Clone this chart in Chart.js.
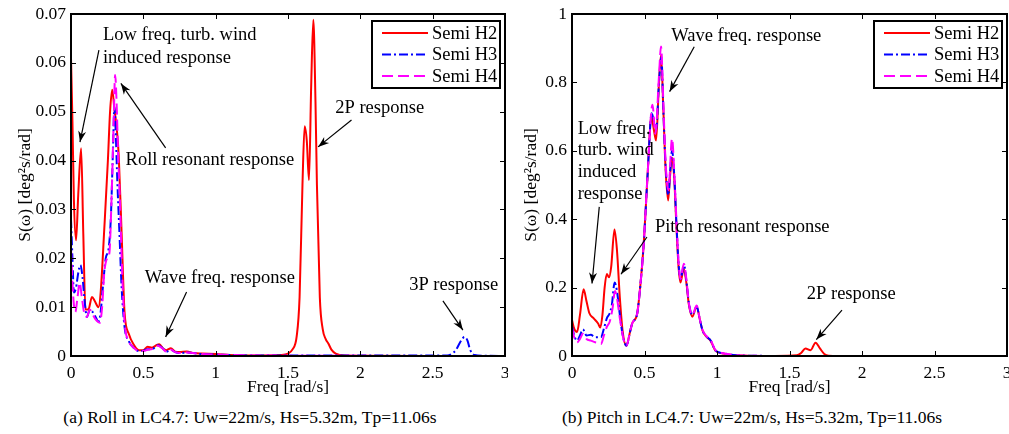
<!DOCTYPE html>
<html>
<head>
<meta charset="utf-8">
<script src="https://cdn.jsdelivr.net/npm/chart.js@4.4.1/dist/chart.umd.min.js"></script>
<style>
  body { margin: 0; background: #fff; width: 1009px; height: 434px; overflow: hidden; position: relative; }
  .panel { position: absolute; top: 0; }
  .caption { position: absolute; top: 407px; font-family: "Liberation Serif", "Times New Roman", serif; font-size: 17.5px; color: #000; white-space: nowrap; transform: translateX(-50%); }
</style>
</head>
<body>
<div class="panel" style="left:0"><canvas id="rollChart" width="508" height="400"></canvas></div>
<div class="panel" style="left:508px"><canvas id="pitchChart" width="501" height="400"></canvas></div>
<div class="caption" style="left:250px">(a) Roll in LC4.7: Uw=22m/s, Hs=5.32m, Tp=11.06s</div>
<div class="caption" style="left:752px">(b) Pitch in LC4.7: Uw=22m/s, Hs=5.32m, Tp=11.06s</div>
<script>
// tick labels
const freqLabels = ['0', '0.5', '1', '1.5', '2', '2.5', '3'];
const rollYLabels = ['0', '0.01', '0.02', '0.03', '0.04', '0.05', '0.06', '0.07'];
const pitchYLabels = ['0', '0.2', '0.4', '0.6', '0.8', '1'];
const seriesNames = ['Semi H2', 'Semi H3', 'Semi H4'];

// roll spectra (a)
const rollH2Freq = [0, 0.01, 0.02, 0.035, 0.05, 0.07, 0.085, 0.1, 0.12, 0.145, 0.165, 0.19, 0.205, 0.23, 0.255, 0.27, 0.285, 0.3, 0.315, 0.33, 0.35, 0.37, 0.4, 0.43, 0.47, 0.5, 0.53, 0.56, 0.59, 0.61, 0.64, 0.66, 0.69, 0.72, 0.75, 0.8, 0.85, 0.9, 1.0, 1.1, 1.2, 1.3, 1.45, 1.5, 1.53, 1.56, 1.58, 1.6, 1.615, 1.63, 1.645, 1.66, 1.675, 1.69, 1.7, 1.72, 1.74, 1.76, 1.78, 1.8, 1.83, 1.9, 2.0, 2.5, 3.0];
const rollH2 = [0.061, 0.048, 0.032, 0.0237, 0.033, 0.0425, 0.025, 0.0095, 0.0095, 0.0121, 0.0112, 0.010, 0.013, 0.026, 0.040, 0.050, 0.0545, 0.0505, 0.047, 0.041, 0.025, 0.009, 0.0045, 0.0025, 0.0012, 0.0012, 0.0019, 0.0017, 0.0022, 0.0024, 0.0014, 0.0012, 0.0016, 0.0009, 0.0008, 0.0009, 0.0006, 0.0005, 0.0004, 0.0002, 0.0001, 0.0001, 0.0002, 0.0005, 0.0013, 0.004, 0.012, 0.035, 0.047, 0.044, 0.036, 0.055, 0.0688, 0.052, 0.035, 0.012, 0.0055, 0.0035, 0.0025, 0.0013, 0.0005, 0.0001, 0.00005, 0, 0];

const rollH3Freq = [0, 0.01, 0.02, 0.035, 0.05, 0.065, 0.08, 0.095, 0.11, 0.13, 0.15, 0.17, 0.19, 0.205, 0.22, 0.24, 0.26, 0.275, 0.29, 0.3, 0.31, 0.32, 0.335, 0.35, 0.37, 0.4, 0.43, 0.47, 0.5, 0.53, 0.56, 0.6, 0.63, 0.66, 0.69, 0.72, 0.76, 0.8, 0.9, 1.0, 1.1, 1.3, 2.6, 2.63, 2.66, 2.69, 2.72, 2.74, 2.76, 2.79, 2.85, 3.0];
const rollH3 = [0.028, 0.02, 0.013, 0.014, 0.017, 0.0186, 0.016, 0.011, 0.008, 0.0095, 0.009, 0.008, 0.007, 0.009, 0.014, 0.02, 0.022, 0.028, 0.042, 0.051, 0.045, 0.036, 0.025, 0.014, 0.006, 0.003, 0.0018, 0.001, 0.0011, 0.0014, 0.0014, 0.0022, 0.0017, 0.0009, 0.0013, 0.0008, 0.0006, 0.0007, 0.0004, 0.0003, 0.0002, 0.0001, 0.0001, 0.0004, 0.0012, 0.0028, 0.0039, 0.0032, 0.0012, 0.0002, 0.00005, 0];

const rollH4Freq = [0, 0.01, 0.02, 0.03, 0.045, 0.06, 0.075, 0.09, 0.11, 0.13, 0.15, 0.17, 0.2, 0.215, 0.23, 0.25, 0.265, 0.28, 0.295, 0.305, 0.315, 0.325, 0.34, 0.355, 0.37, 0.4, 0.43, 0.47, 0.5, 0.53, 0.56, 0.6, 0.63, 0.66, 0.69, 0.72, 0.76, 0.8, 0.9, 1.0, 1.1, 1.3, 3.0];
const rollH4 = [0.022, 0.015, 0.0105, 0.009, 0.012, 0.015, 0.012, 0.009, 0.008, 0.0095, 0.0085, 0.0075, 0.0068, 0.01, 0.017, 0.02, 0.021, 0.032, 0.048, 0.0575, 0.052, 0.042, 0.03, 0.016, 0.007, 0.003, 0.0018, 0.001, 0.001, 0.0013, 0.0014, 0.0021, 0.0016, 0.0009, 0.0013, 0.0008, 0.0006, 0.0007, 0.0004, 0.0003, 0.0002, 0.0001, 0];

// pitch spectra (b)
const pitchH2Freq = [0, 0.015, 0.035, 0.055, 0.08, 0.1, 0.12, 0.15, 0.18, 0.195, 0.21, 0.225, 0.24, 0.255, 0.27, 0.293, 0.31, 0.33, 0.35, 0.375, 0.4, 0.415, 0.45, 0.47, 0.495, 0.52, 0.548, 0.565, 0.58, 0.6, 0.614, 0.63, 0.645, 0.663, 0.675, 0.69, 0.705, 0.72, 0.735, 0.748, 0.771, 0.79, 0.806, 0.83, 0.86, 0.88, 0.9, 0.93, 0.955, 0.99, 1.035, 1.1, 1.2, 1.4, 1.55, 1.58, 1.61, 1.645, 1.68, 1.71, 1.74, 1.77, 1.85, 2.0, 3.0];
const pitchH2 = [0.105, 0.08, 0.07, 0.12, 0.195, 0.16, 0.125, 0.11, 0.095, 0.083, 0.12, 0.2, 0.24, 0.23, 0.26, 0.37, 0.31, 0.17, 0.07, 0.03, 0.07, 0.095, 0.125, 0.2, 0.33, 0.52, 0.70, 0.66, 0.63, 0.80, 0.88, 0.72, 0.55, 0.455, 0.52, 0.58, 0.52, 0.38, 0.26, 0.215, 0.255, 0.21, 0.15, 0.115, 0.145, 0.11, 0.075, 0.055, 0.045, 0.015, 0.008, 0.003, 0.001, 0.0003, 0.002, 0.009, 0.022, 0.017, 0.039, 0.022, 0.006, 0.001, 0.0002, 0, 0];

const pitchH3Freq = [0, 0.015, 0.035, 0.055, 0.075, 0.1, 0.13, 0.16, 0.2, 0.22, 0.24, 0.26, 0.275, 0.294, 0.31, 0.33, 0.35, 0.375, 0.4, 0.415, 0.45, 0.47, 0.495, 0.52, 0.55, 0.568, 0.58, 0.6, 0.616, 0.63, 0.645, 0.665, 0.677, 0.69, 0.705, 0.72, 0.735, 0.748, 0.773, 0.79, 0.806, 0.83, 0.86, 0.88, 0.9, 0.93, 0.955, 0.99, 1.035, 1.1, 1.2, 1.4, 3.0];
const pitchH3 = [0.088, 0.06, 0.045, 0.06, 0.078, 0.06, 0.062, 0.055, 0.055, 0.08, 0.11, 0.125, 0.15, 0.215, 0.19, 0.12, 0.06, 0.03, 0.07, 0.095, 0.125, 0.2, 0.33, 0.52, 0.71, 0.68, 0.66, 0.80, 0.875, 0.72, 0.56, 0.47, 0.54, 0.60, 0.53, 0.39, 0.27, 0.225, 0.265, 0.215, 0.155, 0.12, 0.145, 0.11, 0.075, 0.056, 0.046, 0.016, 0.009, 0.004, 0.001, 0.0003, 0];

const pitchH4Freq = [0, 0.015, 0.035, 0.055, 0.075, 0.1, 0.13, 0.16, 0.2, 0.22, 0.24, 0.26, 0.28, 0.296, 0.31, 0.33, 0.355, 0.375, 0.4, 0.415, 0.45, 0.47, 0.495, 0.52, 0.555, 0.575, 0.6, 0.614, 0.63, 0.645, 0.665, 0.69, 0.705, 0.72, 0.735, 0.748, 0.771, 0.79, 0.806, 0.83, 0.86, 0.88, 0.9, 0.93, 0.955, 0.99, 1.035, 1.1, 1.2, 1.4, 3.0];
const pitchH4 = [0.083, 0.055, 0.04, 0.05, 0.065, 0.05, 0.045, 0.04, 0.035, 0.06, 0.085, 0.1, 0.14, 0.19, 0.17, 0.11, 0.05, 0.03, 0.07, 0.095, 0.125, 0.2, 0.33, 0.52, 0.735, 0.65, 0.82, 0.905, 0.74, 0.57, 0.485, 0.636, 0.54, 0.40, 0.275, 0.225, 0.27, 0.22, 0.155, 0.12, 0.148, 0.11, 0.076, 0.057, 0.047, 0.017, 0.009, 0.004, 0.001, 0.0003, 0];

const FONT = '"Liberation Serif", "Times New Roman", serif';

// turn a freq array and a value array into {x, y} points
function pts(freq, vals) {
    return freq.map((f, i) => ({ x: f, y: vals[i] }));
}

function makeDatasets(h2f, h2, h3f, h3, h4f, h4) {
    const common = { pointRadius: 0, borderWidth: 2, fill: false, cubicInterpolationMode: 'monotone' };
    return [
        Object.assign({ label: seriesNames[0], data: pts(h2f, h2), borderColor: '#ff0000', order: 3 }, common),
        Object.assign({ label: seriesNames[1], data: pts(h3f, h3), borderColor: '#0000ff', borderDash: [9, 3, 2, 3], order: 2 }, common),
        Object.assign({ label: seriesNames[2], data: pts(h4f, h4), borderColor: '#ff00ff', borderDash: [11, 5], order: 1 }, common)
    ];
}

function drawArrow(ctx, x1, y1, x2, y2) {
    ctx.beginPath();
    ctx.moveTo(x1, y1);
    ctx.lineTo(x2, y2);
    ctx.stroke();
    const ang = Math.atan2(y2 - y1, x2 - x1);
    const len = 11, half = 4;
    const bx = x2 - len * Math.cos(ang), by = y2 - len * Math.sin(ang);
    const nx = -Math.sin(ang), ny = Math.cos(ang);
    ctx.beginPath();
    ctx.moveTo(x2, y2);
    ctx.lineTo(bx + nx * half, by + ny * half);
    ctx.lineTo(x2 - 0.7 * len * Math.cos(ang), y2 - 0.7 * len * Math.sin(ang));
    ctx.lineTo(bx - nx * half, by - ny * half);
    ctx.closePath();
    ctx.fill();
}

// frame, inward ticks, legend, axis titles and annotations
const decorPlugin = {
    id: 'decor',
    afterDatasetsDraw(chart, args, opts) {
        const ctx = chart.ctx;
        const a = chart.chartArea;
        const xs = chart.scales.x, ys = chart.scales.y;
        ctx.save();
        ctx.strokeStyle = '#000';
        ctx.fillStyle = '#000';

        // ticks on all four sides, pointing in
        ctx.lineWidth = 1;
        ctx.beginPath();
        xs.ticks.forEach(t => {
            const px = Math.round(xs.getPixelForValue(t.value)) + 0.5;
            ctx.moveTo(px, a.bottom); ctx.lineTo(px, a.bottom - 5);
            ctx.moveTo(px, a.top); ctx.lineTo(px, a.top + 5);
        });
        ys.ticks.forEach(t => {
            const py = Math.round(ys.getPixelForValue(t.value)) + 0.5;
            ctx.moveTo(a.left, py); ctx.lineTo(a.left + 5, py);
            ctx.moveTo(a.right, py); ctx.lineTo(a.right - 5, py);
        });
        ctx.stroke();

        // box
        ctx.lineWidth = 2;
        ctx.strokeRect(a.left, a.top, a.right - a.left, a.bottom - a.top);

        // legend
        const bw = 128, bh = 67;
        const bx = a.right - 5 - bw, by = a.top + 7;
        ctx.fillStyle = '#fff';
        ctx.fillRect(bx, by, bw, bh);
        ctx.lineWidth = 2;
        ctx.strokeRect(bx, by, bw, bh);
        ctx.font = '18.5px ' + FONT;
        ctx.textBaseline = 'middle';
        ctx.textAlign = 'left';
        chart.data.datasets.forEach((ds, i) => {
            const ry = by + 12 + i * 21.5;
            ctx.strokeStyle = ds.borderColor;
            ctx.lineWidth = 2;
            ctx.setLineDash(ds.borderDash || []);
            ctx.beginPath();
            ctx.moveTo(bx + 10, ry); ctx.lineTo(bx + 56, ry);
            ctx.stroke();
            ctx.setLineDash([]);
            ctx.fillStyle = '#000';
            ctx.fillText(ds.label, bx + 60, ry + 1);
        });

        // axis titles
        ctx.font = '17.5px ' + FONT;
        ctx.fillStyle = '#000';
        ctx.textAlign = 'center';
        ctx.fillText('Freq [rad/s]', (a.left + a.right) / 2, 387);
        ctx.save();
        ctx.translate(opts.yTitleX, (a.top + a.bottom) / 2);
        ctx.rotate(-Math.PI / 2);
        ctx.fillText('S(\u03c9) [deg\u00b2s/rad]', 0, 0);
        ctx.restore();

        // annotations, placed in data coordinates
        ctx.font = '18.5px ' + FONT;
        ctx.strokeStyle = '#000';
        ctx.lineWidth = 1.2;
        (opts.notes || []).forEach(n => {
            ctx.textAlign = n.align || 'center';
            const px = xs.getPixelForValue(n.x);
            const py = ys.getPixelForValue(n.y);
            n.lines.forEach((t, k) => ctx.fillText(t, px, py + k * (n.lh || 23)));
        });
        (opts.arrows || []).forEach(r => {
            drawArrow(ctx, xs.getPixelForValue(r[0]), ys.getPixelForValue(r[1]),
                xs.getPixelForValue(r[2]), ys.getPixelForValue(r[3]));
        });
        ctx.restore();
    }
};

function makeChart(id, datasets, yMax, yStep, yLabels, yWidth, padRight, decor) {
    const ctx = document.getElementById(id).getContext('2d');
    return new Chart(ctx, {
        type: 'line',
        data: { datasets: datasets },
        options: {
            responsive: false,
            animation: false,
            events: [],
            layout: { autoPadding: false, padding: { top: 14, right: padRight, left: 0, bottom: 0 } },
            scales: {
                x: {
                    type: 'linear', min: 0, max: 3,
                    grid: { display: false, drawTicks: false },
                    border: { display: false },
                    ticks: {
                        stepSize: 0.5, autoSkip: false, maxRotation: 0, padding: 7,
                        color: '#000', font: { family: FONT, size: 17.5 },
                        callback: (v, i) => freqLabels[i]
                    },
                    afterFit: s => { s.height = 44; s.paddingLeft = 0; s.paddingRight = 0; }
                },
                y: {
                    min: 0, max: yMax,
                    grid: { display: false, drawTicks: false },
                    border: { display: false },
                    ticks: {
                        stepSize: yStep, autoSkip: false, padding: 5,
                        color: '#000', font: { family: FONT, size: 17.5 },
                        callback: (v, i) => yLabels[i]
                    },
                    afterFit: s => { s.width = yWidth; s.paddingTop = 0; s.paddingBottom = 0; }
                }
            },
            plugins: {
                legend: { display: false },
                tooltip: { enabled: false },
                decor: decor
            }
        },
        plugins: [decorPlugin]
    });
}

makeChart('rollChart',
    makeDatasets(rollH2Freq, rollH2, rollH3Freq, rollH3, rollH4Freq, rollH4),
    0.07, 0.01, rollYLabels, 71, 3, {
        yTitleX: 25,
        notes: [
            { lines: ['Low freq. turb. wind', 'induced response'], x: 0.221, y: 0.0657, align: 'left', lh: 23 },
            { lines: ['Roll resonant response'], x: 0.96, y: 0.0401 },
            { lines: ['2P response'], x: 2.134, y: 0.0508 },
            { lines: ['Wave freq. response'], x: 1.029, y: 0.0159 },
            { lines: ['3P response'], x: 2.645, y: 0.0145 }
        ],
        arrows: [
            [0.193, 0.0626, 0.062, 0.0438],
            [0.654, 0.0426, 0.345, 0.0558],
            [1.939, 0.0483, 1.708, 0.0428],
            [0.799, 0.0131, 0.654, 0.0039],
            [2.571, 0.0113, 2.709, 0.0053]
        ]
    });

makeChart('pitchChart',
    makeDatasets(pitchH2Freq, pitchH2, pitchH3Freq, pitchH3, pitchH4Freq, pitchH4),
    1, 0.2, pitchYLabels, 64, 2, {
        yTitleX: 23,
        notes: [
            { lines: ['Wave freq. response'], x: 1.202, y: 0.934 },
            { lines: ['Low freq.', 'turb. wind', 'induced', 'response'], x: 0.039, y: 0.664, align: 'left', lh: 21.6 },
            { lines: ['Pitch resonant response'], x: 1.174, y: 0.376 },
            { lines: ['2P response'], x: 1.926, y: 0.18 }
        ],
        arrows: [
            [0.843, 0.904, 0.673, 0.773],
            [0.188, 0.436, 0.138, 0.212],
            [0.517, 0.348, 0.338, 0.239],
            [1.862, 0.134, 1.685, 0.048]
        ]
    });
</script>
</body>
</html>
